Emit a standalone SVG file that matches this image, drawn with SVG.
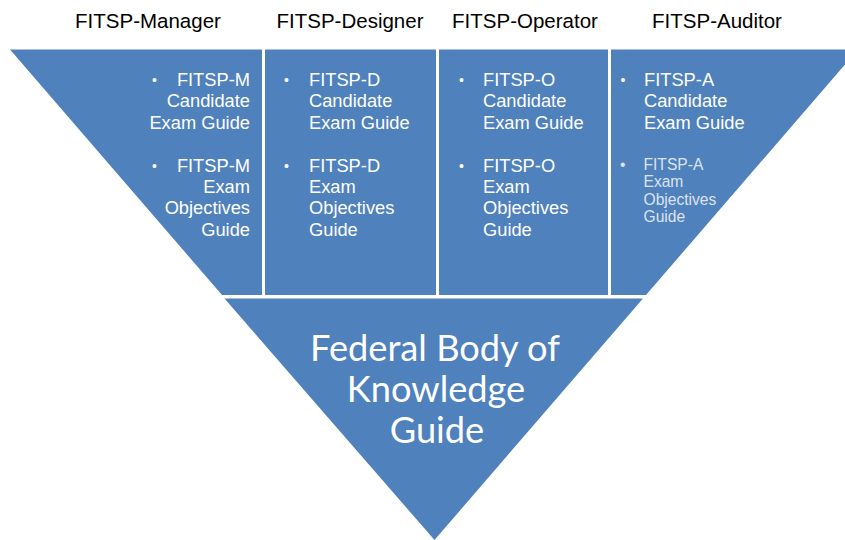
<svg xmlns="http://www.w3.org/2000/svg" width="845" height="540" viewBox="0 0 845 540">
<style>
.piece{fill:#4F81BD;}
.hdr{font-family:"Liberation Sans",Arial,sans-serif;font-size:20.5px;fill:#000;text-anchor:middle;}
.bul{font-family:"Liberation Sans",Arial,sans-serif;font-size:18.3px;fill:#FFFFFF;}
.dot{font-family:"Liberation Sans",Arial,sans-serif;font-size:14px;fill:#FFFFFF;}
.sm{font-family:"Liberation Sans",Arial,sans-serif;font-size:15.6px;fill:#DCE3EE;}
.r{text-anchor:end;}
.big{font-family:Lato,"Open Sans",sans-serif;font-size:36.2px;fill:#FFFFFF;text-anchor:middle;}
</style>
<rect width="845" height="540" fill="#FFFFFF"/>
<g id="headers">
<text class="hdr" x="148" y="28">FITSP-Manager</text>
<text class="hdr" x="350" y="28">FITSP-Designer</text>
<text class="hdr" x="525" y="28">FITSP-Operator</text>
<text class="hdr" x="717" y="28">FITSP-Auditor</text>
</g>
<g id="connectors"></g>
<g id="manager">
<polygon class="piece" points="10,49.5 262,49.5 262,295 222,295"/>
<text class="dot" x="152" y="85">•</text>
<text class="bul r" x="250" y="86">FITSP-M</text>
<text class="bul r" x="250" y="107.3">Candidate</text>
<text class="bul r" x="250" y="128.6">Exam Guide</text>
<text class="dot" x="152" y="170.6">•</text>
<text class="bul r" x="250" y="171.6">FITSP-M</text>
<text class="bul r" x="250" y="192.9">Exam</text>
<text class="bul r" x="250" y="214.2">Objectives</text>
<text class="bul r" x="250" y="235.5">Guide</text>
</g>
<g id="designer">
<polygon class="piece" points="265,49.5 436,49.5 436,295 265,295"/>
<text class="dot" x="284" y="85">•</text>
<text class="bul" x="309" y="86">FITSP-D</text>
<text class="bul" x="309" y="107.3">Candidate</text>
<text class="bul" x="309" y="128.6">Exam Guide</text>
<text class="dot" x="284" y="170.6">•</text>
<text class="bul" x="309" y="171.6">FITSP-D</text>
<text class="bul" x="309" y="192.9">Exam</text>
<text class="bul" x="309" y="214.2">Objectives</text>
<text class="bul" x="309" y="235.5">Guide</text>
</g>
<g id="operator">
<polygon class="piece" points="439,49.5 608,49.5 608,295 439,295"/>
<text class="dot" x="459" y="85">•</text>
<text class="bul" x="483" y="86">FITSP-O</text>
<text class="bul" x="483" y="107.3">Candidate</text>
<text class="bul" x="483" y="128.6">Exam Guide</text>
<text class="dot" x="459" y="170.6">•</text>
<text class="bul" x="483" y="171.6">FITSP-O</text>
<text class="bul" x="483" y="192.9">Exam</text>
<text class="bul" x="483" y="214.2">Objectives</text>
<text class="bul" x="483" y="235.5">Guide</text>
</g>
<g id="auditor">
<polygon class="piece" points="611,49.5 858,49.5 646,295 611,295"/>
<text class="dot" x="620.5" y="85">•</text>
<text class="bul" x="644" y="86">FITSP-A</text>
<text class="bul" x="644" y="107.3">Candidate</text>
<text class="bul" x="644" y="128.6">Exam Guide</text>
<text class="sm" x="620" y="169.5">•</text>
<text class="sm" x="643.5" y="169.5">FITSP-A</text>
<text class="sm" x="643.5" y="187">Exam</text>
<text class="sm" x="643.5" y="204.5">Objectives</text>
<text class="sm" x="643.5" y="222">Guide</text>
</g>
<g id="fbk">
<polygon class="piece" points="224.5,298.5 643,298.5 434.5,540"/>
<text class="big" x="435" y="361">Federal Body of</text>
<text class="big" x="436" y="402">Knowledge</text>
<text class="big" x="437" y="443">Guide</text>
</g>
</svg>
